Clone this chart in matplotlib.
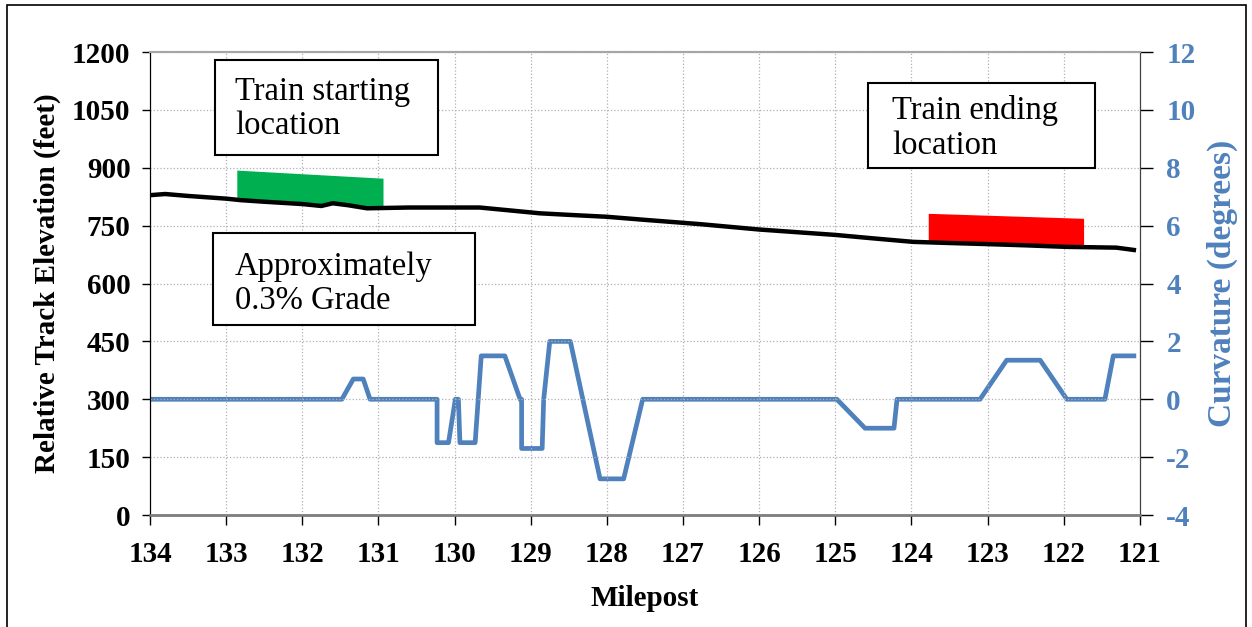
import numpy as np
import matplotlib
matplotlib.use('Agg')
import matplotlib.pyplot as plt
from matplotlib.patches import Rectangle

plt.rcParams['font.family'] = ['Liberation Serif', 'DejaVu Serif']
plt.rcParams['axes.unicode_minus'] = False

# Track elevation profile (milepost, relative elevation in feet)
elev_mile = [134.0, 133.8, 133.5, 133.0, 132.8, 132.5, 132.0, 131.75, 131.6, 131.4,
             131.15, 130.6, 130.0, 129.67, 129.3, 128.88, 128.5, 128.0, 127.5, 126.78,
             126.0, 125.0, 124.5, 123.98, 123.5, 122.97, 122.5, 121.96, 121.31, 121.08]
elev_ft = [829, 832, 827, 820, 816, 812, 806, 801, 808, 803,
           795, 797, 797, 797, 790, 782, 778, 773, 765, 754,
           740, 726, 717, 708, 705, 702, 699, 695, 693, 687]

# Track curvature (milepost, degrees)
curv_mile = [134.0, 131.48, 131.33, 131.2, 131.11, 130.23, 130.23, 130.08, 129.99, 129.95,
             129.93, 129.73, 129.65, 129.34, 129.14, 129.12, 129.12, 128.85, 128.83, 128.75,
             128.48, 128.09, 127.78, 127.53, 124.98, 124.61, 124.23, 124.19, 123.10, 122.75,
             122.31, 121.96, 121.46, 121.35, 121.08]
curv_deg = [0, 0, 0.7, 0.7, 0, 0, -1.5, -1.5, 0, 0,
            -1.5, -1.5, 1.5, 1.5, 0, 0, -1.7, -1.7, 0, 2.0,
            2.0, -2.75, -2.75, 0, 0, -1.0, -1.0, 0, 0, 1.35,
            1.35, 0, 0, 1.5, 1.5]

# Train positions: start/end milepost and top-of-train elevation
start_train_mile = [132.86, 130.94]
start_train_top = [894, 873]
end_train_mile = [123.78, 121.74]
end_train_top = [782, 769]

x_ticks = list(range(134, 120, -1))
y_ticks = list(range(0, 1201, 150))
y2_ticks = list(range(-4, 13, 2))

blue = '#4F81BD'

fig = plt.figure(figsize=(12.52, 6.27), dpi=100)
ax = fig.add_axes([0.1198, 0.1786, 0.7907, 0.7384])
ax2 = ax.twinx()

# trains drawn as fills between the track and the top of the cars
track_x = np.array(elev_mile[::-1])
track_y = np.array(elev_ft[::-1])
for mile, top, color in [(start_train_mile, start_train_top, '#00B050'),
                         (end_train_mile, end_train_top, '#FF0000')]:
    xs = np.linspace(mile[1], mile[0], 40)
    bottom = np.interp(xs, track_x, track_y)
    tops = np.interp(xs, [mile[1], mile[0]], [top[1], top[0]])
    ax.fill_between(xs, bottom, tops, color=color, lw=0, zorder=2)

ax.plot(elev_mile, elev_ft, color='black', lw=3.2, zorder=3)
ax2.plot(curv_mile, curv_deg, color=blue, lw=3.4)

ax.set_xlim(134, 121)
ax.set_ylim(0, 1200)
ax2.set_ylim(-4, 12)
ax.set_xticks(x_ticks)
ax.set_yticks(y_ticks)
ax2.set_yticks(y2_ticks)

ax.grid(True, color='#B0B0B0', ls=':', lw=0.9)
ax.set_axisbelow(True)

for a in (ax, ax2):
    a.spines['left'].set_color('black')
    a.spines['bottom'].set_color('#808080')
    a.spines['bottom'].set_linewidth(1.8)
    a.spines['top'].set_color('#A6A6A6')
    a.spines['top'].set_linewidth(1.5)
    a.spines['right'].set_color('#404040')

ax.tick_params(axis='y', direction='out', length=6, width=1, pad=8,
               labelsize=21)
ax.tick_params(axis='x', direction='out', length=7, width=1, pad=12,
               labelsize=21)
ax2.tick_params(axis='y', direction='out', length=9, width=1, pad=10,
                labelsize=21, labelcolor=blue)
for lab in ax.get_xticklabels() + ax.get_yticklabels() + ax2.get_yticklabels():
    lab.set_fontweight('bold')

ax.set_xlabel('Milepost', fontsize=21, fontweight='bold', labelpad=12)
ax.set_ylabel('Relative Track Elevation (feet)', fontsize=21, fontweight='bold', labelpad=8)
ax2.set_ylabel('Curvature (degrees)', fontsize=24, fontweight='bold', color=blue, labelpad=8)

# text boxes
boxes = [((0.0657, 0.7775), 0.2253, 0.2055, 0.0859, 0.878, 'Train starting\nlocation'),
         ((0.0636, 0.410), 0.2647, 0.199, 0.0859, 0.500, 'Approximately\n0.3% Grade'),
         ((0.7253, 0.7495), 0.2292, 0.1835, 0.7495, 0.836, 'Train ending\nlocation')]
for (bx, by), bw, bh, tx, ty, txt in boxes:
    ax.add_patch(Rectangle((bx, by), bw, bh, transform=ax.transAxes,
                           facecolor='white', edgecolor='black', lw=1.5,
                           zorder=5, clip_on=False))
    ax.text(tx, ty, txt, transform=ax.transAxes, fontsize=23.5, va='center',
            ha='left', linespacing=1.17, zorder=6)

ax.set_zorder(ax2.get_zorder() + 1)
ax.patch.set_visible(False)

# outer border around the figure
fig.patches.append(Rectangle((7 / 1252, -0.05), 1239 / 1252, 1.05 - 5 / 627,
                             transform=fig.transFigure, fill=False,
                             edgecolor='black', lw=1.2))

fig.savefig('out.png', dpi=100)
